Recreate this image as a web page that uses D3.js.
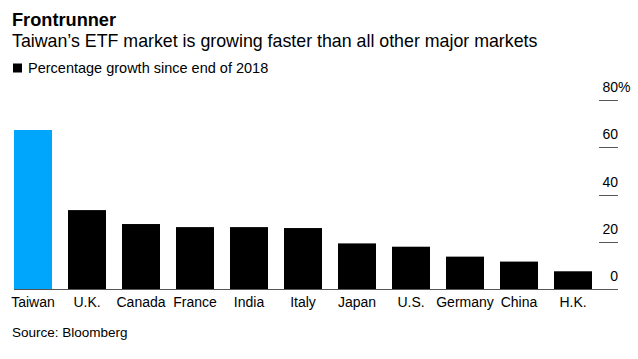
<!DOCTYPE html>
<html>
<head>
<meta charset="utf-8">
<script src="https://cdn.jsdelivr.net/npm/d3@7"></script>
<style>
  html, body { margin: 0; padding: 0; background: #fff; }
  svg { display: block; font-family: "Liberation Sans", Arial, sans-serif; }
</style>
</head>
<body>
<svg id="chart" width="638" height="359"></svg>
<script>
const categories = ["Taiwan", "U.K.", "Canada", "France", "India", "Italy", "Japan", "U.S.", "Germany", "China", "H.K."];
const growth = [67.3, 33.4, 27.5, 26.2, 26.2, 25.8, 19.3, 17.9, 13.7, 11.6, 7.5];
const highlighted = ["Taiwan"];
const yTicks = [0, 20, 40, 60, 80];

const title = "Frontrunner";
const subtitle = "Taiwan\u2019s ETF market is growing faster than all other major markets";
const legendLabel = "Percentage growth since end of 2018";
const source = "Source: Bloomberg";

const svg = d3.select("#chart");
const baseY = 289, topY = 100;
const x = d3.scaleBand().domain(categories).range([14, 592]).paddingInner(16 / 54).paddingOuter(0);
const y = d3.scaleLinear().domain([0, 80]).range([baseY, topY]);

// Titles
svg.append("text").attr("x", 12).attr("y", 26).attr("font-size", 18.2).attr("font-weight", "bold").attr("fill", "#000").text(title);
svg.append("text").attr("x", 12).attr("y", 47).attr("font-size", 17.8).attr("fill", "#000").text(subtitle);
svg.append("rect").attr("x", 13).attr("y", 63.5).attr("width", 9).attr("height", 9).attr("fill", "#000");
svg.append("text").attr("x", 28).attr("y", 72.5).attr("font-size", 14.5).attr("fill", "#000").text(legendLabel);

// Bars
svg.append("g").selectAll("rect").data(categories).join("rect")
  .attr("x", d => x(d))
  .attr("width", x.bandwidth())
  .attr("y", (d, i) => y(growth[i]))
  .attr("height", (d, i) => baseY - y(growth[i]))
  .attr("fill", d => highlighted.includes(d) ? "#00A6FB" : "#000");

// Right axis
const yAxis = d3.axisRight(y).tickValues(yTicks).tickSize(0).tickFormat("");
const ga = svg.append("g").attr("transform", "translate(618,0)").call(yAxis);
ga.select(".domain").remove();
const tickG = svg.append("g");
tickG.selectAll("line").data(yTicks.filter(d => d > 0)).join("line")
  .attr("x1", 599).attr("x2", 618)
  .attr("y1", d => Math.round(y(d)) + 0.5).attr("y2", d => Math.round(y(d)) + 0.5)
  .attr("stroke", "#555").attr("stroke-width", 1);
tickG.selectAll("text").data(yTicks).join("text")
  .attr("x", 618).attr("y", d => y(d) - 8)
  .attr("text-anchor", "end").attr("font-size", 14).attr("fill", "#000")
  .text(d => d);
tickG.append("text").attr("x", 618).attr("y", y(80) - 8).attr("font-size", 14).attr("fill", "#000").text("%");

// Baseline
svg.append("line").attr("x1", 14).attr("x2", 618).attr("y1", baseY + 0.5).attr("y2", baseY + 0.5)
  .attr("stroke", "#555").attr("stroke-width", 1);

// Category labels
const xAxis = d3.axisBottom(x).tickSize(0).tickPadding(0);
const gx = svg.append("g").attr("transform", `translate(0,${baseY})`).call(xAxis);
gx.select(".domain").remove();
gx.selectAll("text").attr("dy", null).attr("y", 18).attr("font-size", 14).attr("fill", "#000")
  .attr("font-family", "\"Liberation Sans\", Arial, sans-serif");

// Source
svg.append("text").attr("x", 12).attr("y", 337).attr("font-size", 13.5).attr("fill", "#000").text(source);
</script>
</body>
</html>
